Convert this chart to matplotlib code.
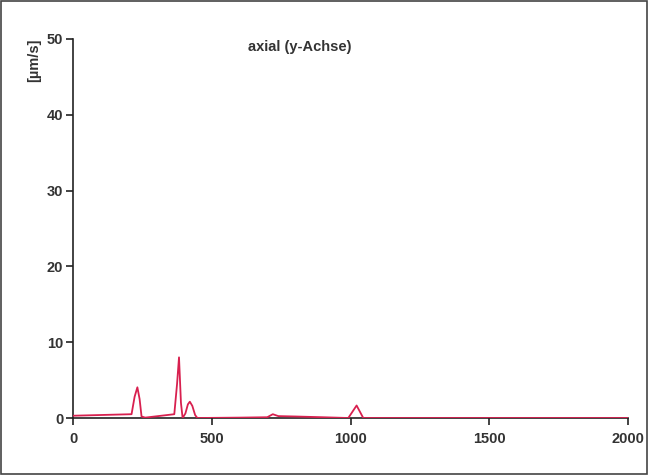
import matplotlib
matplotlib.use("Agg")
import matplotlib.pyplot as plt

# axial velocity trace
t = [0, 211, 222, 232, 240, 247, 260, 365, 375, 382, 389, 395, 405, 414, 421, 430, 440, 448,
     600, 700, 720, 740, 800, 900, 992, 1022, 1046, 1100, 2000]
v = [0.3, 0.5, 2.8, 4.05, 2.5, 0.2, 0.05, 0.5, 4.5, 8.0, 2.0, 0.0, 0.6, 1.8, 2.15, 1.6, 0.4, 0.0,
     0.05, 0.1, 0.5, 0.25, 0.2, 0.1, 0.0, 1.65, 0.0, 0.0, 0.0]

xticks = [0, 500, 1000, 1500, 2000]
yticks = [0, 10, 20, 30, 40, 50]

plt.rcParams["font.family"] = ["Liberation Sans", "DejaVu Sans"]

fig = plt.figure(figsize=(6.48, 4.75), dpi=100)
ax = fig.add_axes([73 / 648, 57 / 475, 555 / 648, 379 / 475])

ax.plot(t, v, color="#d8204f", lw=1.3, zorder=3)

ax.set_xlim(0, 2000)
ax.set_ylim(0, 50)
ax.set_xticks(xticks)
ax.set_yticks(yticks)
for s in ["top", "right"]:
    ax.spines[s].set_visible(False)
for s in ["left", "bottom"]:
    ax.spines[s].set_color("#222222")
    ax.spines[s].set_linewidth(1.2)
ax.tick_params(direction="out", length=5, width=1.2, color="#222222",
               labelsize=10.5, labelcolor="#333333")
ax.tick_params(axis="x", pad=5)
ax.tick_params(axis="y", pad=2)
for lab in ax.get_xticklabels() + ax.get_yticklabels():
    lab.set_fontweight("bold")

fig.text(34 / 648, 1 - 60 / 475, "[µm/s]", rotation=90, ha="center", va="center",
         fontsize=10.5, fontweight="bold", color="#333333")
fig.text(300 / 648, 1 - 47 / 475, "axial (y-Achse)", ha="center", va="center",
         fontsize=10.5, fontweight="bold", color="#333333")

# outer frame
fig.patches.append(plt.Rectangle((0.002, 0.002), 0.996, 0.996, transform=fig.transFigure,
                                 fill=False, edgecolor="#444444", lw=1.2))

fig.savefig("out.png", dpi=100)
